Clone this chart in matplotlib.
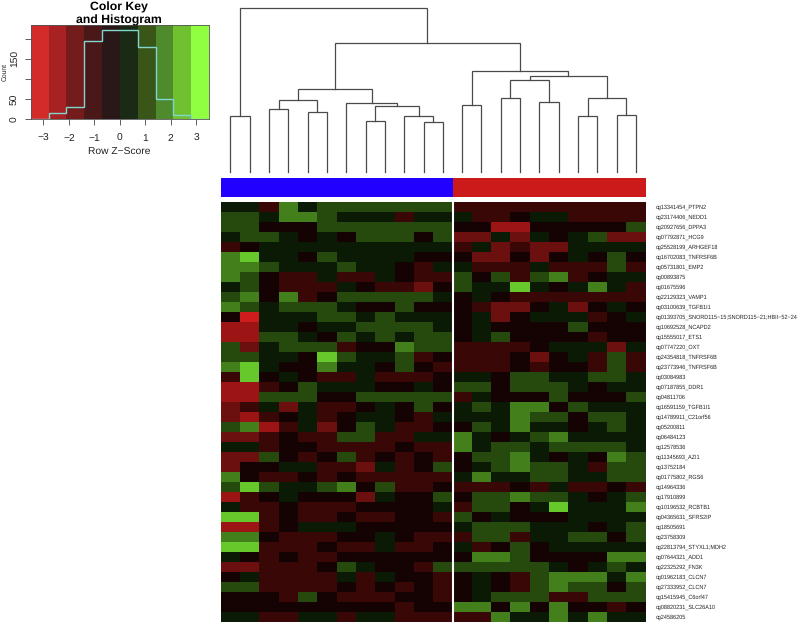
#!/usr/bin/env python3

import numpy as np
import matplotlib as mpl
mpl.use('Agg')
import matplotlib.pyplot as plt
from matplotlib.colors import ListedColormap, BoundaryNorm

mpl.rcParams['font.family'] = ['Liberation Sans', 'DejaVu Sans']
mpl.rcParams['text.hinting'] = 'no_hinting'

W = 800
H = 624
#
#--- color key: z score bins and histogram counts
#
bin_edges  = [-3.5, -2.8, -2.1, -1.4, -0.7, 0.0, 0.7, 1.4, 2.1, 2.8, 3.5]
hist_count = [0, 14, 31, 195, 222, 222, 179, 49, 11, 0]
key_colors = ['#d32a2a', '#a82224', '#741c1c', '#4a1818', '#2a1818',
              '#1a2a14', '#3a5518', '#4f8a2c', '#70c030', '#90ff40']
heat_colors = ['#d01c1c', '#9c1414', '#6b0f0f', '#3a0707', '#150303',
               '#0a1a05', '#264a0e', '#437f1a', '#66c82a', '#90ff40']
#
#--- row labels
#
row_labels = [
    'cg13341454_PTPN2', 'cg23174406_NEDD1', 'cg20927656_DPPA3', 'cg07792871_HCG9',
    'cg25528199_ARHGEF18', 'cg16702083_TNFRSF6B', 'cg05731801_EMP2', 'cg00893875',
    'cg01675596', 'cg22129323_VAMP1', 'cg03100639_TGFB1I1',
    'cg01393705_SNORD115\u221215;SNORD115\u221221;HBII\u221252\u221224',
    'cg10692528_NCAPD2', 'cg15555017_ETS1', 'cg07747220_OXT', 'cg24354818_TNFRSF6B',
    'cg23773946_TNFRSF6B', 'cg03084983', 'cg07187855_DDR1', 'cg04811706',
    'cg16591159_TGFB1I1', 'cg14789911_C21orf56', 'cg05200811', 'cg06484123',
    'cg12578536', 'cg11345693_AZI1', 'cg13752184', 'cg01775802_RGS6', 'cg14964336',
    'cg17910899', 'cg10196532_RCBTB1', 'cg04365631_SFRS2IP', 'cg18505691',
    'cg23758309', 'cg22813794_STYXL1;MDH2', 'cg07644321_ADD1', 'cg22325292_FN3K',
    'cg01962183_CLCN7', 'cg27333952_CLCN7', 'cg15415945_C6orf47',
    'cg08820231_SLC26A10', 'cg24586205',
]
#
#--- z scores: first group (blue, 12 columns)
#
group1_rows = [
    [0.3, 0.3, -1, 1.7, 0.3, 1, 1, 1, 1, 1, 1, 1],
    [1, 1, 0.3, 1.7, 1.7, 1, 0.3, 0.3, 0.3, -1, 0.3, 0.3],
    [1, 1, -0.3, -0.3, -0.3, 1, 1, 1, 1, 1, 1, 1],
    [0.3, 1, 1, 0.3, -0.3, 0.3, -0.3, 1, 1, 1, -0.3, 1],
    [-1, -0.3, 0.3, 0.3, 0.3, 0.3, 0.3, 0.3, 0.3, 0.3, 0.3, 0.3],
    [1.7, 2.4, 0.3, 0.3, -0.3, 1, 0.3, 0.3, 0.3, 0.3, -0.3, -0.3],
    [1.7, 1.7, 1, 0.3, 0.3, 0.3, 1, 0.3, 0.3, -0.3, -1, 0.3],
    [1.7, 1, -0.3, -1, -1, 0.3, -1, -1, 0.3, -0.3, -1, -1],
    [0.3, 1, -0.3, -1, -1, -1, 0.3, -0.3, -1, -1, -1.7, -0.3],
    [1, 1.7, -0.3, 1.7, -1, -0.3, 1, 1, 1, 1, 1, 0.3],
    [1.7, 1, 0.3, 1, 1, 1, 0.3, -0.3, -0.3, 1, -0.3, -0.3],
    [-0.3, -3.1, 0.3, 0.3, 0.3, 1, 1, 0.3, 1, 0.3, 0.3, 0.3],
    [-2.4, -2.4, 0.3, 0.3, -0.3, 0.3, 0.3, 1, 1, 1, 1, 0.3],
    [-2.4, -2.4, 1, 1, 0.3, -0.3, 1, 0.3, 1, 0.3, 1, 1],
    [1, -1.7, 0.3, 1, 1, 1, -1, -0.3, -0.3, 1.7, 1, 1],
    [1, 1, 0.3, 0.3, -0.3, 2.4, 1, 0.3, 0.3, 1, -1, -0.3],
    [1.7, 2.4, 0.3, -0.3, -0.3, 1.7, 0.3, 0.3, -0.3, 1, -0.3, -1],
    [-1, 2.4, -0.3, 0.3, -0.3, -1, -1, 0.3, -1, -1, -1, -0.3],
    [-2.4, -2.4, -1, -0.3, 1, 0.3, 0.3, 0.3, -0.3, -0.3, 0.3, -0.3],
    [-2.4, -2.4, 1, 1, 1, -0.3, -0.3, 1, 1, 1, 1, 1],
    [-1.7, -1, 0.3, -1.7, 0.3, -1, -1, -0.3, 0.3, -0.3, 1, -0.3],
    [-1.7, -2.4, -1, -0.3, 0.3, -1, -0.3, 0.3, 0.3, -0.3, -1, 0.3],
    [1, 1.7, -2.4, -1, 0.3, -1.7, -0.3, 1, 0.3, -1, -1, -0.3],
    [-1.7, -1.7, -1, -0.3, -1, -1, 1, 1, -1, -1, 0.3, 0.3],
    [0.3, 0.3, -1, -0.3, -0.3, -1, -1, -1, -1, -0.3, -1, -1],
    [-1.7, -1.7, 1, -0.3, -1, -0.3, 1, -1, -0.3, -1, -0.3, -1],
    [-1.7, -0.3, -0.3, 0.3, 0.3, -1, -1, -1.7, 0.3, -1, -0.3, 1],
    [1.7, -0.3, -1, -1, -0.3, -1, -0.3, -1, -1, -1, -1, -1],
    [1, 2.4, 1, 0.3, 0.3, 1, 1.7, -0.3, 1, -1, -1, -0.3],
    [-2.4, -1, -0.3, 0.3, -0.3, -0.3, -0.3, -1.7, 0.3, -0.3, -0.3, 1],
    [0.3, -1, -1, -0.3, -1, -1, -1, -0.3, -0.3, -0.3, -0.3, 0.3],
    [2.4, 2.4, -1, -0.3, -1, -1, -0.3, -1, -1, -0.3, -0.3, -1],
    [-2.4, -2.4, -1, -0.3, 0.3, 0.3, 0.3, -0.3, -0.3, -0.3, -0.3, -0.3],
    [1.7, 1.7, -0.3, -1, -1, -1, -0.3, -0.3, 0.3, -0.3, -1, -1],
    [2.4, 2.4, -1, -1, -1, -0.3, -1, -1, 0.3, -1, -1, -0.3],
    [0.3, -0.3, -1, -0.3, -1, -1, -0.3, -0.3, -0.3, -0.3, -0.3, -0.3],
    [-1.7, -1.7, -1, -1, -1, -0.3, 1, 0.3, -0.3, -0.3, -1, 1],
    [-0.3, 0.3, -1, -1, -1, -1, 0.3, -1, 0.3, -0.3, -0.3, -1],
    [1, 1, -1, -1, -1, -1, -0.3, -1, -0.3, -1, -0.3, -1],
    [-0.3, -0.3, -0.3, -1, 1, -0.3, -1, -1, -1, -0.3, -0.3, -1],
    [-0.3, -0.3, -0.3, -0.3, -0.3, -0.3, -0.3, -0.3, -0.3, -1, -0.3, -0.3],
    [0.3, 0.3, -1, -1, 0.3, 0.3, -1, 0.3, 0.3, -1, -1, -1],
]
#
#--- z scores: second group (red, 10 columns)
#
group2_rows = [
    [-1, -1, -1, -1, -1, -1, -1, -1, -1, -1],
    [0.3, -1, -1, -0.3, 0.3, 0.3, -1, -1, -1, -1],
    [-0.3, -0.3, -2.4, -2.4, -0.3, -0.3, -0.3, -0.3, -0.3, 1],
    [-1.7, -1.7, 0.3, -1.7, 0.3, -0.3, 0.3, 1, -1.7, -1.7],
    [-1, 0.3, -1.7, -1, -1.7, -1.7, 0.3, 0.3, 0.3, 0.3],
    [-0.3, -1.7, -1.7, -0.3, -1.7, -0.3, 0.3, -0.3, 1, -0.3],
    [0.3, -1, -1, -1, 0.3, -1, -1, -1, 1, -1],
    [1, -0.3, 1, -1, 1, 1.7, -1, -0.3, 0.3, 0.3],
    [1, 0.3, 0.3, 2.4, 0.3, -0.3, 0.3, 1.7, 0.3, -1],
    [-0.3, 0.3, -0.3, -1, -1, -1, -1, -1, -1, -1],
    [-0.3, -1, -1.7, -1.7, -0.3, 0.3, -1.7, -0.3, 0.3, -0.3],
    [-0.3, 0.3, -1.7, -0.3, 0.3, 0.3, 0.3, -1, -0.3, 0.3],
    [-0.3, 0.3, -0.3, -0.3, -0.3, -0.3, 1, -0.3, -0.3, -0.3],
    [-0.3, 0.3, 1, -0.3, -0.3, -0.3, -0.3, -1, -0.3, -0.3],
    [-1, -1, -1, -1, -0.3, 0.3, 0.3, 0.3, -1.7, 0.3],
    [-1, -1, -1, -0.3, -1.7, -0.3, 0.3, -1, 1, -1],
    [-1, -1, -1, -0.3, -1, -0.3, -0.3, -1, 1, -1],
    [0.3, 0.3, -0.3, 1, 1, 0.3, 0.3, 1, 1, 0.3],
    [1, 1, -0.3, 1, 1, 1, 0.3, -0.3, 0.3, 0.3],
    [-1, 0.3, -0.3, -0.3, -0.3, 1, -0.3, -0.3, -0.3, 1],
    [0.3, 1, 0.3, 1.7, 1.7, -0.3, 1, 0.3, 0.3, 0.3],
    [0.3, 0.3, 0.3, 1.7, 1, 1, -0.3, 1, 1, 0.3],
    [-0.3, 1, 0.3, 1.7, 0.3, 0.3, -0.3, 0.3, 1, 0.3],
    [1.7, 0.3, -0.3, 0.3, 1, 1.7, 0.3, 0.3, 0.3, 0.3],
    [1.7, 0.3, 1, 1, 0.3, 1, 1, 1, 1, 0.3],
    [-0.3, 1, 1, 1.7, 0.3, -0.3, 0.3, -0.3, 1.7, 1],
    [-0.3, 0.3, 1, 1.7, 1, 1, 0.3, -1, 1, 1],
    [0.3, 1.7, 0.3, 0.3, 1, 1, 0.3, 0.3, 1, 1],
    [-1, -1, -1, -0.3, -1, 0.3, -1, -1, -0.3, -1],
    [-0.3, 1, 1, 1.7, 1, 1, 0.3, -0.3, 0.3, 1],
    [-1, 1, 1, -0.3, 0.3, 2.4, 0.3, 0.3, 0.3, 1.7],
    [1, -0.3, 0.3, -0.3, -0.3, -0.3, 0.3, 0.3, 0.3, 0.3],
    [0.3, 1, 1, 1, 0.3, 0.3, 0.3, -0.3, 0.3, 1],
    [-1, 1, 1, -1, 0.3, 0.3, 1, 1, -0.3, 1],
    [0.3, -1, -0.3, 1, -0.3, 0.3, 0.3, 0.3, 0.3, 0.3],
    [-0.3, 1.7, 1.7, 1, -0.3, -0.3, -0.3, -0.3, 1.7, 1.7],
    [1, 1, 1, 1, 1, 0.3, -0.3, 0.3, 1, 0.3],
    [-0.3, 0.3, -0.3, -1, 1, 1.7, 1.7, 1.7, 0.3, 1.7],
    [-0.3, 0.3, -0.3, -1, 1, 1.7, 1, 1, -0.3, 1],
    [-0.3, 0.3, 1, 1, 1, -1, -1, 1, 1, 1],
    [1.7, 1.7, -0.3, 1.7, -0.3, 1.7, -0.3, -0.3, -1, -0.3],
    [-1, -1, 1.7, 0.3, 0.3, 1.7, 0.3, 1.7, 0.3, 0.3],
]
#
#--- column dendrogram: (left node, right node, height); ids 0-21 are the leaves,
#--- id 22 + i is the node made by merge i
#
merges = [
    (0, 1, 56.0), (2, 3, 63.3), (4, 5, 60.3), (23, 24, 72.7),
    (7, 8, 51.3), (10, 11, 50.0), (9, 27, 56.3), (26, 28, 66.0),
    (6, 29, 69.7), (25, 30, 83.3), (12, 13, 67.0), (14, 15, 74.7),
    (16, 17, 70.0), (33, 34, 92.0), (18, 19, 56.7), (20, 21, 57.7),
    (36, 37, 74.0), (35, 38, 96.7), (32, 39, 101.3), (31, 40, 129.7),
    (22, 41, 164.7),
]
col_group = [0] * 12 + [1] * 10

#-------------------------------------------------------------------------------------
#-- px_axes: make axes from a pixel box, measured from the top left of the figure   --
#-------------------------------------------------------------------------------------

def px_axes(fig, x1, y1, x2, y2):
    """
    input:  fig             --- figure
            x1, y1, x2, y2  --- box corners in pixels
    output: ax              --- axes
    """
    return fig.add_axes([x1 / W, 1 - y2 / H, (x2 - x1) / W, (y2 - y1) / H])

#-------------------------------------------------------------------------------------
#-- plot_key: color key with the histogram on it                                    --
#-------------------------------------------------------------------------------------

def plot_key(fig):
    ax = px_axes(fig, 30.7, 24.5, 209.0, 119.0)
    ymax = 236
    cmap = ListedColormap(key_colors)
    centers = [0.5 * (bin_edges[i] + bin_edges[i + 1]) for i in range(len(key_colors))]
    norm = BoundaryNorm(bin_edges, cmap.N)
    ax.pcolormesh(bin_edges, [0, ymax], [centers], cmap=cmap, norm=norm)
#
#--- histogram outline
#
    ax.stairs(hist_count, bin_edges, color='#7fd8d0', lw=1.0)

    ax.set_xlim(-3.5, 3.5)
    ax.set_ylim(0, ymax)
    ax.set_xticks([-3, -2, -1, 0, 1, 2, 3])
    ax.set_xticklabels(['\u22123', '\u22122', '\u22121', '0', '1', '2', '3'])
    ax.set_yticks([0, 50, 100, 150, 200])
    ax.set_yticklabels(['0', '50', '', '150', ''], rotation=90, va='center')
    ax.tick_params(axis='both', labelsize=7.4, length=4.2, width=0.6, color='#444444',
                   labelcolor='#222222')
    ax.tick_params(axis='x', pad=6.5)
    ax.tick_params(axis='y', pad=3.5)
    for spine in ax.spines.values():
        spine.set_linewidth(0.6)
        spine.set_color('#555555')

    fig.text(119 / W, 1 - 152.5 / H, 'Row Z\u2212Score', fontsize=7.4, color='#222222',
             ha='center', va='center')
    fig.text(4.5 / W, 1 - 72 / H, 'Count', fontsize=4.9, color='#222222', rotation=90,
             ha='center', va='center')
    fig.text(119 / W, 1 - 7 / H, 'Color Key', fontsize=8.8, fontweight='bold',
             ha='center', va='center')
    fig.text(119 / W, 1 - 20.5 / H, 'and Histogram', fontsize=8.8, fontweight='bold',
             ha='center', va='center')

#-------------------------------------------------------------------------------------
#-- plot_dendrogram: column dendrogram above the heat map                           --
#-------------------------------------------------------------------------------------

def plot_dendrogram(fig):
    ax = px_axes(fig, 220.7, 5.0, 645.7, 172.3)
    xpos = {i: i + 0.5 for i in range(22)}
    ypos = {i: 0.0 for i in range(22)}
    for i, (left, right, height) in enumerate(merges):
        ax.plot([xpos[left], xpos[left], xpos[right], xpos[right]],
                [ypos[left], height, height, ypos[right]],
                color='#4a4a4a', lw=0.9, solid_joinstyle='miter', clip_on=False)
        xpos[22 + i] = 0.5 * (xpos[left] + xpos[right])
        ypos[22 + i] = height
    ax.set_xlim(0, 22)
    ax.set_ylim(0, 167.3)
    ax.axis('off')

#-------------------------------------------------------------------------------------
#-- plot_sidebar: the group color bar                                               --
#-------------------------------------------------------------------------------------

def plot_sidebar(fig):
    ax = px_axes(fig, 220.7, 178.3, 645.7, 197.0)
    cmap = ListedColormap(['#2200ff', '#cc1a1a'])
    ax.pcolormesh(np.arange(23), [0, 1], [col_group], cmap=cmap, vmin=0, vmax=1)
    ax.axis('off')

#-------------------------------------------------------------------------------------
#-- plot_heat: the heat map and its row labels                                      --
#-------------------------------------------------------------------------------------

def plot_heat(fig):
    ax = px_axes(fig, 220.7, 202.3, 645.7, 622.3)
    zval = np.hstack([np.array(group1_rows), np.array(group2_rows)])
    nrow = zval.shape[0]
    cmap = ListedColormap(heat_colors)
    norm = BoundaryNorm(bin_edges, cmap.N)
    ax.pcolormesh(np.arange(23), np.arange(nrow + 1), zval, cmap=cmap, norm=norm)
#
#--- white line between two groups
#
    ax.axvline(12.02, color='white', lw=1.5)

    ax.set_xlim(0, 22)
    ax.set_ylim(nrow, 0)
    ax.axis('off')

    for i, lab in enumerate(row_labels):
        ax.annotate(lab, xy=(22, i + 0.5), xycoords='data', xytext=(7.5, 0),
                    textcoords='offset points', fontsize=4.0, color='#222222',
                    ha='left', va='center', annotation_clip=False)

#--------------------------------------------------------------------------------------

if __name__ == '__main__':

    fig = plt.figure(figsize=(W / 100, H / 100), dpi=100)

    plot_key(fig)
    plot_dendrogram(fig)
    plot_sidebar(fig)
    plot_heat(fig)

    plt.savefig('out.png', format='png', dpi=100)
